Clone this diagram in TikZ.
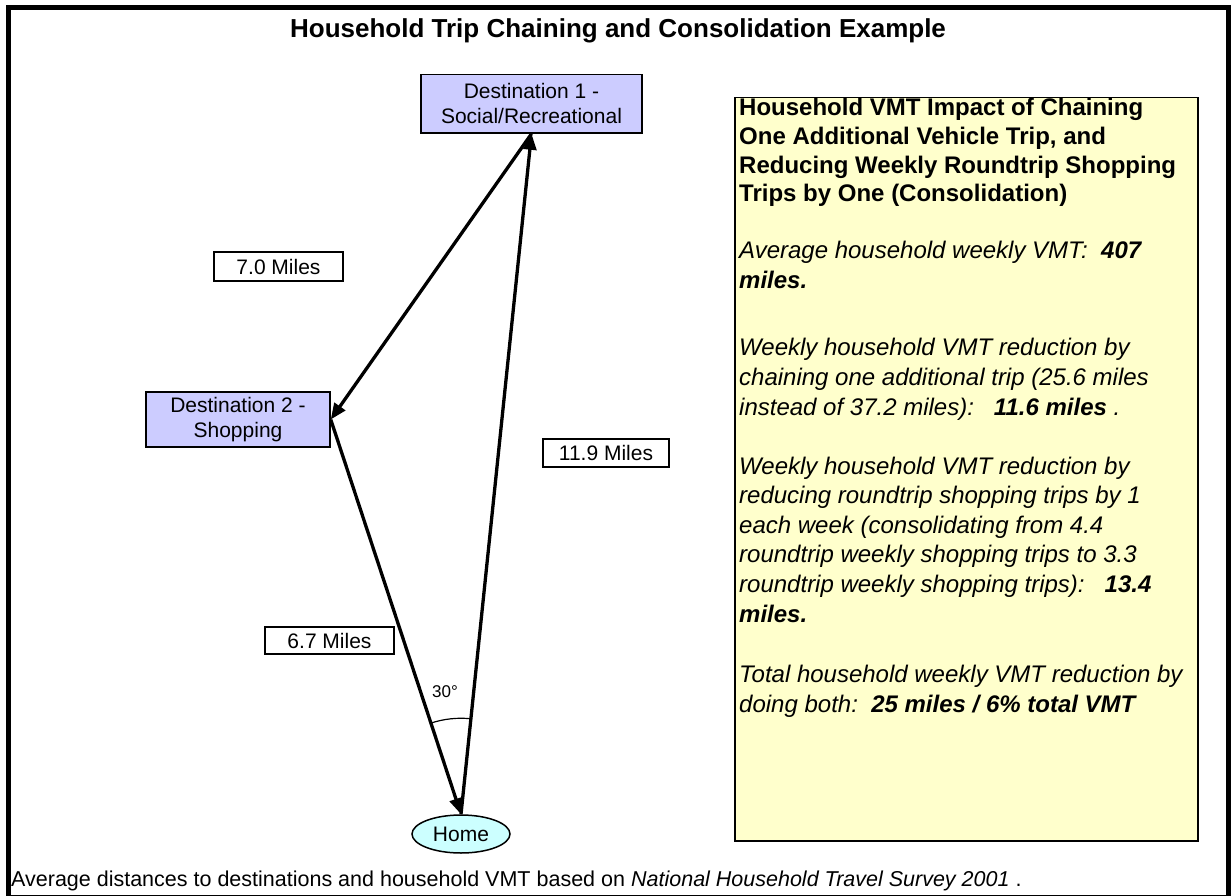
\documentclass[tikz,border=0pt]{standalone}
\usepackage{fontspec}
\setmainfont{Liberation Sans}
\usetikzlibrary{arrows.meta,shapes.geometric,angles,calc}
\definecolor{destblue}{HTML}{CCCCFF}
\definecolor{homecyan}{HTML}{CCFFFF}
\definecolor{noteyellow}{HTML}{FFFFCC}
\begin{document}
\begin{tikzpicture}[x=1pt,y=-1pt,
  destbox/.style={draw=black, line width=1.5pt, fill=destblue, align=center, inner sep=0pt,
    font=\fontsize{21}{25}\selectfont},
  milebox/.style={draw=black, line width=1.3pt, fill=white, inner sep=0pt,
    minimum width=129pt, minimum height=29pt, font=\fontsize{21}{25}\selectfont},
  homenode/.style={ellipse, draw=black, line width=1.5pt, fill=homecyan, inner sep=0pt,
    minimum width=98pt, minimum height=38pt, font=\fontsize{21}{25}\selectfont},
  infobox/.style={draw=black, line width=1.5pt, fill=noteyellow, inner sep=0pt},
  infotext/.style={anchor=base west, align=left, inner sep=0pt, font=\fontsize{24}{29.6}\selectfont},
  trip/.style={line width=3.3pt, -{Triangle[length=16pt,width=13pt]}},
  anglearc/.style={draw=black, line width=1.2pt, angle radius=96pt}
]
\useasboundingbox (0,0) rectangle (1231,896);
\fill[white] (0,0) rectangle (1231,896);
% frame
\draw[line width=5pt] (8.5,7.5) rectangle (1228.5,897);
% title
\node[anchor=base, inner sep=0pt, font=\fontsize{26}{30}\selectfont\bfseries] (title) at (618,38)
  {Household Trip Chaining and Consolidation Example};
% destinations
\node[destbox, minimum width=221pt, minimum height=58.5pt] (d1) at (531.5,103.75)
  {Destination 1 -\\Social/Recreational};
\node[destbox, minimum width=184pt, minimum height=55pt] (d2) at (238,419.5)
  {Destination 2 -\\Shopping};
\node[homenode] (home) at (461,834) {Home};
% mile labels
\node[milebox] (m70) at (278.5,266.5) {7.0 Miles};
\node[milebox, minimum width=126pt, minimum height=28pt] (m119) at (606,453) {11.9 Miles};
\node[milebox, minimum height=27pt] (m67) at (329.5,640.5) {6.7 Miles};
% connectors
\coordinate (ht) at (home.north);
\coordinate (d1b) at (d1.south);
\coordinate (d2r) at (d2.east);
\draw[trip] (ht) -- (d1b);
\draw[trip] (d1b) -- (d2r);
\draw[trip] (d2r) -- (ht);
\pic[anglearc] {angle = d1b--ht--d2r};
\node[inner sep=0pt, font=\fontsize{17}{20}\selectfont] (deg) at (445,692) {30°};
% info box
\node[infobox, minimum width=463pt, minimum height=743pt, anchor=north west] (info) at (734,97) {};
% (each text is placed by the baseline of its last line)
\node[infotext, font=\fontsize{24}{28.7}\selectfont] (p1) at (739,202) {\bfseries Household VMT Impact of Chaining\\
  \bfseries One Additional Vehicle Trip, and\\
  \bfseries Reducing Weekly Roundtrip Shopping\\
  \bfseries Trips by One (Consolidation)};
\node[infotext] (p2) at (739,288) {\itshape Average household weekly VMT:\ \ \bfseries 407\\
  \itshape\bfseries miles.};
\node[infotext] (p3) at (739,415) {\itshape Weekly household VMT reduction by\\
  \itshape chaining one additional trip (25.6 miles\\
  \itshape instead of 37.2 miles):\ \ \ {\bfseries 11.6 miles} .};
\node[infotext] (p4) at (739,622) {\itshape Weekly household VMT reduction by\\
  \itshape reducing roundtrip shopping trips by 1\\
  \itshape each week (consolidating from 4.4\\
  \itshape roundtrip weekly shopping trips to 3.3\\
  \itshape roundtrip weekly shopping trips):\ \ \ {\bfseries 13.4}\\
  \itshape\bfseries miles.};
\node[infotext] (p5) at (739,712) {\itshape Total household weekly VMT reduction by\\
  \itshape doing both:\ \ {\bfseries 25 miles / 6\% total VMT}};
% footnote
\node[anchor=base west, inner sep=0pt, font=\fontsize{21.5}{25}\selectfont] (foot) at (11,886)
  {Average distances to destinations and household VMT based on \textit{National Household Travel Survey 2001} .};
\end{tikzpicture}
\end{document}
